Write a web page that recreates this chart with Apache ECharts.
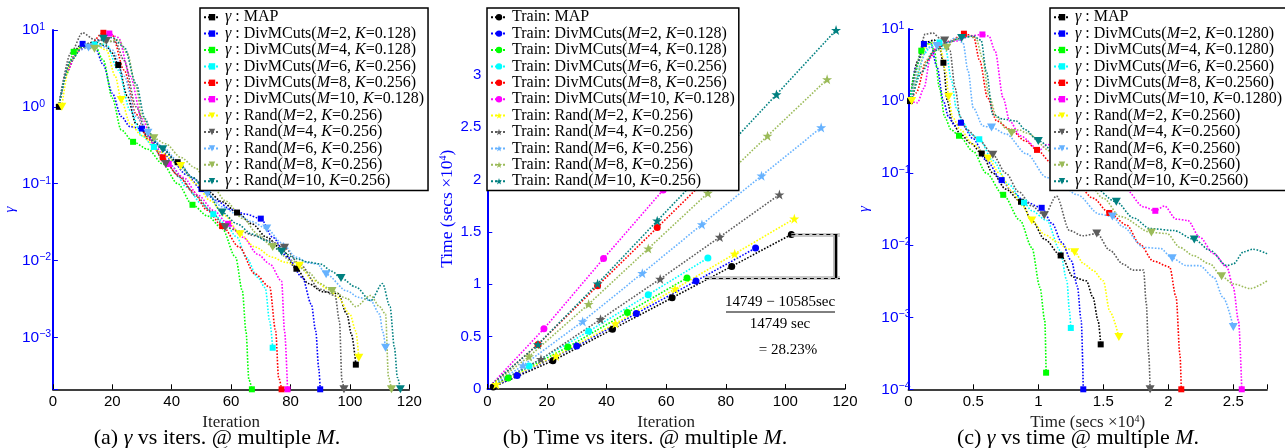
<!DOCTYPE html>
<html><head><meta charset="utf-8">
<script src="https://cdn.jsdelivr.net/npm/echarts@6/dist/echarts.min.js"></script>
<style>html,body{margin:0;padding:0;background:#fff}#c{width:1285px;height:448px}</style>
</head><body><div id="c"></div>
<script>
// ---------- names ----------
const NAMES_A = ['γ : MAP','γ : DivMCuts(M=2, K=0.128)','γ : DivMCuts(M=4, K=0.128)','γ : DivMCuts(M=6, K=0.256)','γ : DivMCuts(M=8, K=0.256)','γ : DivMCuts(M=10, K=0.128)','γ : Rand(M=2, K=0.256)','γ : Rand(M=4, K=0.256)','γ : Rand(M=6, K=0.256)','γ : Rand(M=8, K=0.256)','γ : Rand(M=10, K=0.256)'];
const NAMES_B = ['Train: MAP','Train: DivMCuts(M=2, K=0.128)','Train: DivMCuts(M=4, K=0.128)','Train: DivMCuts(M=6, K=0.256)','Train: DivMCuts(M=8, K=0.256)','Train: DivMCuts(M=10, K=0.128)','Train: Rand(M=2, K=0.256)','Train: Rand(M=4, K=0.256)','Train: Rand(M=6, K=0.256)','Train: Rand(M=8, K=0.256)','Train: Rand(M=10, K=0.256)'];
const NAMES_C = ['γ : MAP','γ : DivMCuts(M=2, K=0.1280)','γ : DivMCuts(M=4, K=0.1280)','γ : DivMCuts(M=6, K=0.2560)','γ : DivMCuts(M=8, K=0.2560)','γ : DivMCuts(M=10, K=0.1280)','γ : Rand(M=2, K=0.2560)','γ : Rand(M=4, K=0.2560)','γ : Rand(M=6, K=0.2560)','γ : Rand(M=8, K=0.2560)','γ : Rand(M=10, K=0.2560)'];

// ---------- panel (a): gamma vs iteration  [iter, gamma] ----------
const A_MAP_MK = [[2,1],[22,3.5],[42,0.19],[62,0.042],[82,0.0078],[102,4.4e-4]];
const A_MAP = [[5,3.2],[9,6.2],[14,7],[18,6.2],[20,5],[25,1.4],[28,0.6],[32,0.42],[37,0.28],[47,0.12],[52,0.08],[57,0.058],[67,0.03],[72,0.02],[77,0.014],[86,0.005],[91,0.0039],[96,0.0037],[99,0.002],[100.5,0.0011]];
const A_DM2_MK = [[10,6.6],[30,0.52],[50,0.085],[70,0.035],[90,2.1e-4]];
const A_DM2 = [[2,1],[6,4],[14,6.2],[17,3.5],[20,1.5],[23,0.75],[26,0.55],[35,0.33],[40,0.2],[45,0.13],[55,0.06],[60,0.046],[65,0.04],[74,0.02],[79,0.011],[84,0.006],[87,0.0027],[88.5,0.0012],[89.5,4e-4]];
const A_DM4_MK = [[7,5.2],[27,0.35],[47,0.053],[67,2.1e-4]];
const A_DM4 = [[2,1],[4.5,2.6],[10,6.2],[14,6.5],[17,4],[20,1.3],[23,0.5],[32,0.28],[37,0.18],[42,0.1],[52,0.038],[57,0.026],[61.5,0.011],[63.8,0.004],[65,0.0012],[66,2.8e-4]];
const A_DM6_MK = [[14,6.5],[34,0.3],[54,0.04],[74,7.3e-4]];
const A_DM6 = [[2,1],[5,3],[8,5.3],[11,6],[18,6.5],[22,3],[26,0.9],[30,0.42],[40,0.17],[45,0.09],[50,0.055],[58,0.03],[62,0.02],[65,0.011],[69,0.006],[71.5,0.0044],[73,0.0016]];
const A_DM8_MK = [[17,9.2],[37,0.22],[57,0.028],[77,2.1e-4]];
const A_DM8 = [[2,1],[5,3],[8,5.3],[12,6.2],[20,8.5],[24,3],[28,0.8],[32,0.38],[42,0.13],[47,0.08],[52,0.045],[62.7,0.015],[68,0.0067],[73,0.0045],[75,0.0012],[76,3e-4]];
const A_DM10_MK = [[19,9.0],[39,0.18],[59,0.03],[79,2.1e-4]];
const A_DM10 = [[2,1],[5,3],[8,5.3],[12,6.2],[16,7.5],[22,8],[26,2.5],[30,0.7],[34,0.32],[44,0.12],[49,0.07],[54,0.045],[64,0.02],[69,0.012],[73,0.009],[77,0.0054],[78,0.0012]];
const A_R2_MK = [[3,1],[23,1.23],[43,0.17],[63,0.022],[83,0.0085],[103,5.4e-4]];
const A_R2 = [[6,4],[10,6.5],[14,6.5],[18,5.5],[21,2.5],[26,0.6],[30,0.42],[36,0.26],[48,0.1],[53,0.06],[58,0.038],[68,0.015],[74,0.011],[78,0.0095],[87.6,0.0055],[93,0.0042],[96,0.0033],[100,0.002],[102,0.0012]];
const A_R4_MK = [[18,7.2],[38,0.18],[58,0.027],[78,0.0146],[98,2.1e-4]];
const A_R4 = [[2,1],[6,5],[10,9.2],[14,7.5],[21,7],[24,4],[28,1],[32,0.4],[43,0.12],[48,0.07],[53,0.045],[63,0.024],[68,0.021],[73,0.018],[83,0.009],[90,0.0042],[95,0.0035],[96.5,0.0016],[97.3,2.8e-4]];
const A_R6_MK = [[12,5.9],[32,0.46],[52,0.074],[72,0.026],[92,0.0066],[112,7.3e-4]];
const A_R6 = [[2,1],[6,4],[9,5.5],[16,6.2],[20,5.5],[24,2.5],[28,0.75],[37,0.3],[42,0.2],[47,0.12],[57,0.05],[62,0.04],[67,0.032],[77,0.017],[82,0.011],[86,0.0093],[89,0.009],[99,0.004],[103,0.0033],[107,0.003],[110,0.002],[111,0.0012]];
const A_R8_MK = [[14,5.7],[34,0.39],[54,0.09],[74,0.015],[94,0.004],[114,2.1e-4]];
const A_R8 = [[2,1],[6,4],[10,6],[18,7],[22,7.5],[25,5],[28,1.8],[30,0.75],[38,0.33],[43,0.22],[48,0.16],[51,0.12],[58,0.06],[64,0.035],[69,0.022],[80,0.01],[86,0.007],[90,0.005],[99,0.0032],[102,0.0025],[107,0.0035],[110,0.0025],[112,0.002],[113,3e-4]];
const A_R10_MK = [[17,7.7],[37,0.28],[57,0.042],[77,0.013],[97,0.0059],[117,2.1e-4]];
const A_R10 = [[2,1],[6,4],[10,6],[13,6.5],[20,8],[24,6],[28,2],[31,0.7],[34,0.36],[42,0.18],[47,0.12],[52,0.075],[62,0.03],[67,0.022],[72,0.018],[82,0.0105],[86,0.0095],[90,0.009],[94,0.0072],[102,0.0045],[107,0.003],[111,0.005],[113.5,0.0025],[115,7.3e-4],[116,3e-4]];

// ---------- panel (b): time (x1e4 s) vs iteration ----------
const B_MAP_MK = [[2,0.02],[22,0.27],[42,0.57],[62,0.87],[82,1.17],[102,1.4749]];
const B_MAP = [[1,0.01]];
const B_DM2_MK = [[10,0.13],[30,0.41],[50,0.72],[70,1.03],[90,1.345]];
const B_DM2 = [[1,0.01]];
const B_DM4_MK = [[7,0.105],[27,0.4],[47,0.73],[67,1.06]];
const B_DM4 = [[1,0.015]];
const B_DM6_MK = [[14,0.22],[34,0.55],[54,0.9],[74,1.25]];
const B_DM6 = [[1,0.02]];
const B_DM8_MK = [[17,0.425],[37,0.985],[57,1.54],[77,2.1]];
const B_DM8 = [[1,0.03]];
const B_DM10_MK = [[19,0.575],[39,1.245],[59,1.9],[79,2.56]];
const B_DM10 = [[1,0.03]];
const B_R2_MK = [[3,0.045],[23,0.315],[43,0.625],[63,0.955],[83,1.29],[103,1.625]];
const B_R2 = [[1,0.015]];
const B_R4_MK = [[18,0.285],[38,0.665],[58,1.05],[78,1.45],[98,1.855]];
const B_R4 = [[1,0.02]];
const B_R6_MK = [[12,0.225],[32,0.645],[52,1.105],[72,1.57],[92,2.035],[112,2.495]];
const B_R6 = [[1,0.02]];
const B_R8_MK = [[14,0.31],[34,0.81],[54,1.34],[74,1.87],[94,2.415],[114,2.955]];
const B_R8 = [[1,0.025]];
const B_R10_MK = [[17,0.425],[37,1.005],[57,1.605],[77,2.2],[97,2.81],[117,3.425]];
const B_R10 = [[1,0.03]];
const B_TIME_MAP = 14749, B_TIME_DM = 10585;   // secs, annotated in (b)

// ---------- panel (c): gamma vs time (x1e4 s) ----------
const C_MAP_MK = [[0.013,1],[0.27,3.4],[0.565,0.187],[0.867,0.04],[1.172,0.0072],[1.48,4.2e-4]];
const C_MAP = [[0.07,3.5],[0.13,6.5],[0.2,7],[0.24,5.5],[0.3,1],[0.34,0.5],[0.4,0.35],[0.48,0.26],[0.65,0.1],[0.75,0.06],[0.95,0.022],[1.05,0.012],[1.27,0.0036],[1.37,0.0032],[1.42,0.0019],[1.46,9e-4]];
const C_DM2_MK = [[0.12,6.2],[0.405,0.5],[0.718,0.08],[1.026,0.033],[1.346,1e-4]];
const C_DM2 = [[0.013,1],[0.06,3],[0.17,6.5],[0.22,3],[0.27,1],[0.31,0.6],[0.36,0.45],[0.5,0.3],[0.6,0.15],[0.8,0.055],[0.9,0.04],[1.106,0.02],[1.18,0.011],[1.256,0.006],[1.3,0.0027],[1.33,9e-4]];
const C_DM4_MK = [[0.1,5.0],[0.39,0.33],[0.73,0.05],[1.06,1.7e-4]];
const C_DM4 = [[0.013,1],[0.05,2.5],[0.17,6.5],[0.2,5],[0.24,1.5],[0.28,0.6],[0.33,0.4],[0.5,0.2],[0.6,0.1],[0.86,0.022],[0.95,0.0093],[1.013,0.0026],[1.05,9e-4]];
const C_DM6_MK = [[0.24,6.5],[0.546,0.295],[0.89,0.039],[1.25,7.1e-4]];
const C_DM6 = [[0.013,1],[0.06,2],[0.12,4.5],[0.18,6],[0.29,5],[0.33,2],[0.37,0.8],[0.42,0.5],[0.48,0.35],[0.65,0.15],[0.77,0.07],[0.95,0.03],[1.065,0.022],[1.167,0.0085],[1.22,0.0032],[1.24,0.0012]];
const C_DM8_MK = [[0.428,8.6],[0.99,0.21],[1.546,0.028],[2.1,1e-4]];
const C_DM8 = [[0.013,1],[0.06,1.3],[0.14,3.6],[0.22,5.5],[0.32,6.8],[0.5,8],[0.55,3.6],[0.61,1.1],[0.68,0.53],[0.78,0.41],[0.9,0.28],[1.1,0.14],[1.2,0.1],[1.3,0.07],[1.42,0.045],[1.68,0.019],[1.78,0.0104],[1.885,0.006],[2.01,0.005],[2.06,0.0019],[2.09,3e-4]];
const C_DM10_MK = [[0.57,8.4],[1.26,0.15],[1.9,0.03],[2.565,1e-4]];
const C_DM10 = [[0.013,1],[0.07,0.95],[0.12,1.5],[0.17,4],[0.24,6.4],[0.37,6.8],[0.47,8],[0.62,8],[0.667,5],[0.73,1.1],[0.78,0.53],[0.86,0.33],[1.01,0.21],[1.065,0.25],[1.45,0.09],[1.67,0.06],[1.81,0.034],[1.97,0.035],[2.06,0.023],[2.15,0.022],[2.24,0.013],[2.35,0.0076],[2.45,0.005],[2.5,0.0026],[2.54,9e-4]];
const C_R2_MK = [[0.026,1],[0.31,1.15],[0.615,0.16],[0.95,0.022],[1.28,0.008],[1.62,5.3e-4]];
const C_R2 = [[0.08,3],[0.14,6],[0.2,6.5],[0.25,5],[0.29,2.5],[0.34,0.6],[0.4,0.4],[0.5,0.25],[0.7,0.1],[0.8,0.055],[0.88,0.035],[1.05,0.014],[1.15,0.011],[1.22,0.009],[1.35,0.0055],[1.42,0.0045],[1.5,0.0032],[1.55,0.0012]];
const C_R4_MK = [[0.28,6.9],[0.65,0.18],[1.046,0.026],[1.45,0.0145],[1.86,1e-4]];
const C_R4 = [[0.026,1],[0.07,3.5],[0.13,8.5],[0.19,8.8],[0.24,7.5],[0.32,5],[0.36,1.5],[0.4,0.6],[0.45,0.4],[0.55,0.28],[0.75,0.1],[0.85,0.055],[0.95,0.035],[1.14,0.048],[1.24,0.016],[1.34,0.0135],[1.55,0.0085],[1.65,0.0055],[1.73,0.0045],[1.81,0.0045],[1.83,0.0016],[1.85,3e-4]];
const C_R6_MK = [[0.22,5.8],[0.64,0.43],[1.155,0.074],[1.57,0.025],[2.03,0.0066],[2.5,7.3e-4]];
const C_R6 = [[0.026,1],[0.08,3],[0.15,5.5],[0.3,6.5],[0.36,7.5],[0.42,6.5],[0.46,2.6],[0.5,0.8],[0.575,0.45],[0.75,0.35],[0.91,0.185],[1.065,0.087],[1.3,0.05],[1.47,0.027],[1.65,0.018],[1.81,0.0093],[1.94,0.009],[2.14,0.0052],[2.24,0.0052],[2.35,0.0036],[2.42,0.0019]];
const C_R8_MK = [[0.295,5.5],[0.795,0.36],[1.34,0.1],[1.87,0.015],[2.41,0.0037]];
const C_R8 = [[0.026,1],[0.1,3],[0.2,5],[0.35,7],[0.45,8],[0.52,7.5],[0.57,4],[0.62,1.2],[0.68,0.6],[0.75,0.42],[0.85,0.4],[0.91,0.36],[1.1,0.2],[1.5,0.045],[1.63,0.025],[1.99,0.0145],[2.09,0.0093],[2.19,0.0072],[2.32,0.0055],[2.5,0.0029],[2.63,0.0025],[2.76,0.0032]];
const C_R10_MK = [[0.41,7.5],[1.0,0.28],[1.6,0.04],[2.2,0.012]];
const C_R10 = [[0.026,1],[0.1,2.5],[0.2,5],[0.3,6.5],[0.5,8],[0.56,7],[0.6,2.6],[0.65,0.65],[0.73,0.56],[0.83,0.53],[0.9,0.4],[1.2,0.14],[1.4,0.07],[1.73,0.024],[1.86,0.017],[2.04,0.016],[2.32,0.0085],[2.45,0.0052],[2.5,0.0055],[2.58,0.0081],[2.65,0.0088],[2.76,0.0076]];

// ---------- styles ----------
const COLORS = ['#000000','#0000ff','#00ff00','#00ffff','#ff0000','#ff00ff','#ffff00','#5c5c5c','#66b2ff','#9bbb59','#008080'];
const STAR = 'path://M50,0L61.8,35.3L98.9,35.4L69,57.3L80.4,92.7L50,70.9L19.6,92.7L31,57.3L1.1,35.4L38.2,35.3Z';
const TRI = 'path://M0,0L10,0L5,8.66Z';
const SERIF = 'Liberation Serif', SANS = 'Liberation Sans';

const PANELS = [
  {names: NAMES_A, lines:[A_MAP,A_DM2,A_DM4,A_DM6,A_DM8,A_DM10,A_R2,A_R4,A_R6,A_R8,A_R10],
   marks:[A_MAP_MK,A_DM2_MK,A_DM4_MK,A_DM6_MK,A_DM8_MK,A_DM10_MK,A_R2_MK,A_R4_MK,A_R6_MK,A_R8_MK,A_R10_MK]},
  {names: NAMES_B, lines:[B_MAP,B_DM2,B_DM4,B_DM6,B_DM8,B_DM10,B_R2,B_R4,B_R6,B_R8,B_R10],
   marks:[B_MAP_MK,B_DM2_MK,B_DM4_MK,B_DM6_MK,B_DM8_MK,B_DM10_MK,B_R2_MK,B_R4_MK,B_R6_MK,B_R8_MK,B_R10_MK]},
  {names: NAMES_C, lines:[C_MAP,C_DM2,C_DM4,C_DM6,C_DM8,C_DM10,C_R2,C_R4,C_R6,C_R8,C_R10],
   marks:[C_MAP_MK,C_DM2_MK,C_DM4_MK,C_DM6_MK,C_DM8_MK,C_DM10_MK,C_R2_MK,C_R4_MK,C_R6_MK,C_R8_MK,C_R10_MK]}
];

function symOf(p, i){ if (p === 1) return i < 6 ? 'circle' : STAR; return i < 6 ? 'rect' : TRI; }
function sizeOf(p, i){ if (p === 1) return i < 6 ? 7 : 10; return i < 6 ? 6 : [9, 8]; }

const lineSeries = [], markSeries = [];
PANELS.forEach((P, p) => {
  P.names.forEach((name, i) => {
    const merged = P.lines[i].concat(P.marks[i]).sort((u, v) => u[0] - v[0]);
    lineSeries.push({
      type: 'line', name, xAxisIndex: p, yAxisIndex: p, data: merged,
      smooth: p === 1 ? false : 0.3, smoothMonotone: 'x', showSymbol: false,
      symbol: symOf(p, i), symbolSize: sizeOf(p, i), color: COLORS[i],
      lineStyle: {color: COLORS[i], width: 1.6, type: 'dotted'},
      itemStyle: {color: COLORS[i]}, silent: true, animation: false, z: 2
    });
    markSeries.push({
      type: 'scatter', name, xAxisIndex: p, yAxisIndex: p, data: P.marks[i],
      symbol: symOf(p, i), symbolSize: sizeOf(p, i), clip: false,
      itemStyle: {color: COLORS[i], opacity: 1}, silent: true, animation: false, z: 3
    });
  });
});

// annotation in (b)
const hi = B_TIME_MAP / 1e4, lo = B_TIME_DM / 1e4;
const shade = {color: '#bdbdbd', width: 4, type: 'solid', opacity: 0.8};
const dash = {color: '#000', width: 1.2, type: [4, 3]};
lineSeries.push({
  type: 'line', xAxisIndex: 1, yAxisIndex: 1, data: [], silent: true, animation: false, z: 4,
  markLine: {silent: true, symbol: 'none', label: {show: false}, animation: false,
    data: [
      [{coord: [102, hi], lineStyle: shade}, {coord: [118.3, hi]}],
      [{coord: [73, lo], lineStyle: shade}, {coord: [118.3, lo]}],
      [{coord: [116.8, lo], lineStyle: {color: '#bdbdbd', width: 5, type: 'solid'}}, {coord: [116.8, hi]}],
      [{coord: [102, hi], lineStyle: dash}, {coord: [118.3, hi]}],
      [{coord: [73, lo], lineStyle: dash}, {coord: [118.3, lo]}],
      [{coord: [116.8, lo], lineStyle: {color: '#000', width: 2.2, type: 'solid'}}, {coord: [116.8, hi]}]
    ]}
});

function fmtLegend(name){
  return name.replace('γ', '{i|γ}').replace('(M=', '({i|M}=').replace(', K=', ', {i|K}=');
}
function legendCfg(names, left){
  return {
    data: names, orient: 'vertical', left, top: 8, itemWidth: 16, itemHeight: 8, itemGap: 0,
    padding: [1, 4, 1, 3], backgroundColor: '#fff', borderColor: '#000', borderWidth: 1.5, borderRadius: 0,
    selectedMode: false, formatter: fmtLegend,
    textStyle: {fontFamily: SERIF, fontSize: 16, color: '#000', lineHeight: 16.4,
      rich: {i: {fontStyle: 'italic', fontFamily: SERIF, fontSize: 16, lineHeight: 16.4, color: '#000'}}}
  };
}

const BLUE = '#0000ff';
function logFmt(v){
  const l = Math.log10(v), e = Math.round(l);
  if (Math.abs(l - e) > 1e-6) return '';
  return '{b|10}{s|' + (e < 0 ? '\u2212' + (-e) : e) + '}';
}
function stepFmt(v){ return Math.abs(v / 0.5 - Math.round(v / 0.5)) < 1e-6 ? String(v) : ''; }
const logRich = {b: {fontSize: 15.5, fontFamily: SANS, color: BLUE, lineHeight: 17},
                 s: {fontSize: 10.5, fontFamily: SANS, color: BLUE, verticalAlign: 'top', lineHeight: 10}};
const supRich = {s: {fontSize: 10, fontFamily: SERIF, verticalAlign: 'top', lineHeight: 10}};

function xAx(grid, min, max, interval, name, fmt){
  return {gridIndex: grid, type: 'value', min, max, interval,
    axisLine: {show: true, onZero: false, lineStyle: {color: '#000', width: 1.5}},
    axisTick: {show: true, inside: true, length: 5, lineStyle: {color: '#000', width: 1}},
    axisLabel: {color: '#000', fontSize: 15, fontFamily: SANS, margin: 5, formatter: fmt},
    splitLine: {show: false}, name, nameLocation: 'middle', nameGap: 13,
    nameTextStyle: {fontFamily: SERIF, fontSize: 17, color: '#222', rich: {s: Object.assign({color: '#222'}, supRich.s)}}};
}
function yLog(grid, min, max, margin, gap){
  return {gridIndex: grid, type: 'log', logBase: 10, min, max,
    axisLine: {show: true, lineStyle: {color: BLUE, width: 2}},
    axisTick: {show: true, inside: true, length: 5, lineStyle: {color: BLUE}},
    axisLabel: {formatter: logFmt, rich: logRich, align: 'left', margin},
    splitLine: {show: false}, name: 'γ', nameLocation: 'middle', nameGap: gap,
    nameTextStyle: {fontFamily: SERIF, fontStyle: 'italic', fontSize: 15, color: BLUE}};
}

const option = {
  backgroundColor: '#fff', animation: false,
  grid: [
    {left: 52.9, top: 30, width: 356.4, height: 359.3, outerBoundsMode: 'none', containLabel: false},
    {left: 487.3, top: 28.5, width: 357.7, height: 360.5, outerBoundsMode: 'none', containLabel: false},
    {left: 908.3, top: 29, width: 358.8, height: 360.3, outerBoundsMode: 'none', containLabel: false}
  ],
  xAxis: [
    xAx(0, 0, 120, 20, 'Iteration'),
    xAx(1, 0, 120, 20, 'Iteration'),
    xAx(2, 0, 2.76, 0.5, 'Time (secs ×10{s|4})', stepFmt)
  ],
  yAxis: [
    yLog(0, 2.1e-4, 10, 31, 35),
    {gridIndex: 1, type: 'value', min: 0, max: 3.44, interval: 0.5,
      axisLine: {show: true, onZero: false, lineStyle: {color: BLUE, width: 2}},
      axisTick: {show: true, inside: true, length: 5, lineStyle: {color: BLUE}},
      axisLabel: {color: BLUE, fontSize: 15, fontFamily: SANS, margin: 6, formatter: stepFmt},
      splitLine: {show: false}, name: 'Time (secs ×10{s|4})', nameLocation: 'middle', nameGap: 28,
      nameTextStyle: {fontFamily: SERIF, fontSize: 17.5, color: BLUE, rich: {s: Object.assign({color: BLUE}, supRich.s)}}},
    yLog(2, 1e-4, 10, 27, 37)
  ],
  legend: [legendCfg(NAMES_A, 200), legendCfg(NAMES_B, 487), legendCfg(NAMES_C, 1050)],
  series: lineSeries.concat(markSeries),
  graphic: [
    {type: 'text', x: 217, y: 438, style: {text: '(a) {i|γ} vs iters. @ multiple {i|M}.', fontFamily: SERIF, fontSize: 22, fill: '#000', align: 'center', verticalAlign: 'middle',
      rich: {i: {fontStyle: 'italic', fontFamily: SERIF, fontSize: 22}}}},
    {type: 'text', x: 645, y: 438, style: {text: '(b) Time vs iters. @ multiple {i|M}.', fontFamily: SERIF, fontSize: 22, fill: '#000', align: 'center', verticalAlign: 'middle',
      rich: {i: {fontStyle: 'italic', fontFamily: SERIF, fontSize: 22}}}},
    {type: 'text', x: 1078, y: 438, style: {text: '(c) {i|γ} vs time @ multiple {i|M}.', fontFamily: SERIF, fontSize: 22, fill: '#000', align: 'center', verticalAlign: 'middle',
      rich: {i: {fontStyle: 'italic', fontFamily: SERIF, fontSize: 22}}}},
    {type: 'text', x: 780, y: 302, style: {text: B_TIME_MAP + ' \u2212 ' + B_TIME_DM + 'sec', fontFamily: SERIF, fontSize: 15, fill: '#000', align: 'center', verticalAlign: 'middle'}},
    {type: 'line', shape: {x1: 726, y1: 312, x2: 835, y2: 312}, style: {stroke: '#000', lineWidth: 1}},
    {type: 'text', x: 780, y: 324, style: {text: B_TIME_MAP + ' sec', fontFamily: SERIF, fontSize: 15, fill: '#000', align: 'center', verticalAlign: 'middle'}},
    {type: 'text', x: 788, y: 350, style: {text: '= ' + ((B_TIME_MAP - B_TIME_DM) / B_TIME_MAP * 100).toFixed(2) + '%', fontFamily: SERIF, fontSize: 15, fill: '#000', align: 'center', verticalAlign: 'middle'}}
  ]
};

const chart = echarts.init(document.getElementById('c'), null, {renderer: 'canvas'});
chart.setOption(option);
</script></body></html>
